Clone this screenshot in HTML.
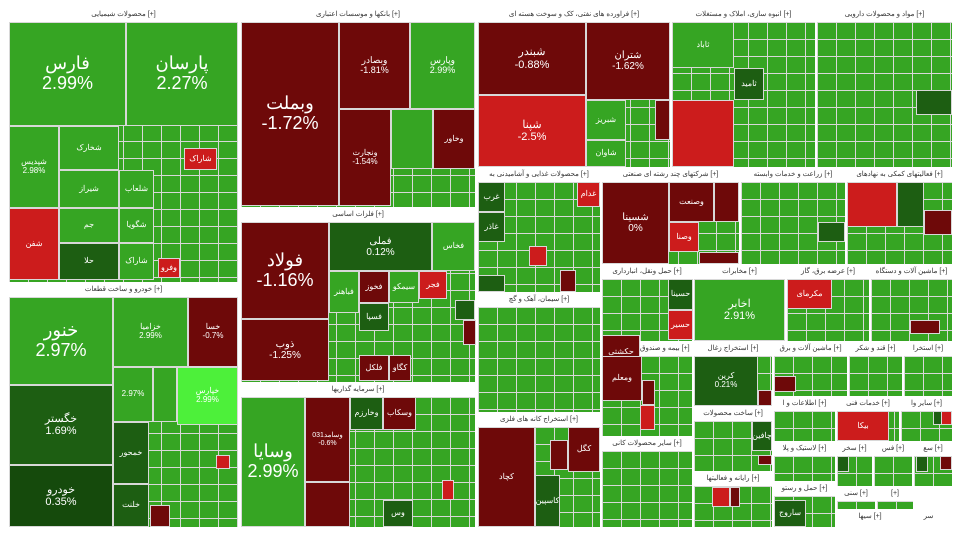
<!DOCTYPE html>
<html><head><meta charset="utf-8"><style>
body{margin:0;width:960px;height:540px;background:#fff;position:relative;overflow:hidden;font-family:"Liberation Sans","Noto Sans CJK SC",sans-serif}
.s{position:absolute;background:#fff;box-sizing:border-box}
.s .h{position:absolute;left:0;right:0;top:0;height:14px;font-size:7px;color:#333;text-align:center;line-height:14px;white-space:nowrap;overflow:hidden}
.s .c{position:absolute;left:1px;right:1px;top:14px;bottom:1px;background-color:#36a523;background-image:linear-gradient(#d8d8d8 1px,transparent 1px),linear-gradient(90deg,#d8d8d8 1px,transparent 1px);background-size:19px 17px}
.t{position:absolute;box-sizing:border-box;border:1px solid #d8d8d8;color:#fff;display:flex;flex-direction:column;align-items:center;justify-content:center;font-size:8px;text-align:center;line-height:1.1;overflow:hidden}
.g{background:#36a523}.G{background:#1d5e12}.r{background:#cc1c1c}.R{background:#6e0909}.L{background:#4df03a}
.b{font-size:18px}.m{font-size:11px}
</style></head><body>
<div class="s" style="left:8px;top:8px;width:231px;height:275px"><div class="h">محصولات شیمیایی [+]</div><div class="c"></div></div>
<div class="s" style="left:8px;top:283px;width:231px;height:245px"><div class="h">خودرو و ساخت قطعات [+]</div><div class="c"></div></div>
<div class="s" style="left:240px;top:8px;width:236px;height:200px"><div class="h">بانکها و موسسات اعتباری [+]</div><div class="c"></div></div>
<div class="s" style="left:240px;top:208px;width:236px;height:175px"><div class="h">فلزات اساسی [+]</div><div class="c"></div></div>
<div class="s" style="left:240px;top:383px;width:236px;height:145px"><div class="h">سرمایه گذاریها [+]</div><div class="c"></div></div>
<div class="s" style="left:477px;top:8px;width:194px;height:160px"><div class="h">فراورده های نفتی، کک و سوخت هسته ای [+]</div><div class="c"></div></div>
<div class="s" style="left:671px;top:8px;width:145px;height:160px"><div class="h">انبوه سازی، املاک و مستغلات [+]</div><div class="c"></div></div>
<div class="s" style="left:816px;top:8px;width:137px;height:160px"><div class="h">مواد و محصولات دارویی [+]</div><div class="c"></div></div>
<div class="s" style="left:477px;top:168px;width:124px;height:125px"><div class="h">محصولات غذایی و آشامیدنی به [+]</div><div class="c"></div></div>
<div class="s" style="left:601px;top:168px;width:139px;height:97px"><div class="h">شرکتهای چند رشته ای صنعتی [+]</div><div class="c"></div></div>
<div class="s" style="left:740px;top:168px;width:106px;height:97px"><div class="h">زراعت و خدمات وابسته [+]</div><div class="c"></div></div>
<div class="s" style="left:846px;top:168px;width:107px;height:97px"><div class="h">فعالیتهای کمکی به نهادهای [+]</div><div class="c"></div></div>
<div class="s" style="left:601px;top:265px;width:92px;height:77px"><div class="h">حمل ونقل، انبارداری [+]</div><div class="c"></div></div>
<div class="s" style="left:693px;top:265px;width:93px;height:77px"><div class="h">مخابرات [+]</div><div class="c"></div></div>
<div class="s" style="left:786px;top:265px;width:84px;height:77px"><div class="h">عرضه برق، گاز [+]</div><div class="c"></div></div>
<div class="s" style="left:870px;top:265px;width:83px;height:77px"><div class="h">ماشین آلات و دستگاه [+]</div><div class="c"></div></div>
<div class="s" style="left:477px;top:293px;width:124px;height:120px"><div class="h">سیمان، آهک و گچ [+]</div><div class="c"></div></div>
<div class="s" style="left:477px;top:413px;width:124px;height:115px"><div class="h">استخراج کانه های فلزی [+]</div><div class="c"></div></div>
<div class="s" style="left:601px;top:342px;width:92px;height:95px"><div class="h">بیمه و صندوق بازنشستگی [+]</div><div class="c"></div></div>
<div class="s" style="left:601px;top:437px;width:92px;height:91px"><div class="h">سایر محصولات کانی [+]</div><div class="c"></div></div>
<div class="s" style="left:693px;top:342px;width:80px;height:65px"><div class="h">استخراج زغال [+]</div><div class="c"></div></div>
<div class="s" style="left:693px;top:407px;width:80px;height:65px"><div class="h">ساخت محصولات [+]</div><div class="c"></div></div>
<div class="s" style="left:693px;top:472px;width:80px;height:56px"><div class="h">رایانه و فعالیتها [+]</div><div class="c"></div></div>
<div class="s" style="left:773px;top:342px;width:75px;height:55px"><div class="h">ماشین آلات و برق [+]</div><div class="c"></div></div>
<div class="s" style="left:848px;top:342px;width:55px;height:55px"><div class="h">قند و شکر [+]</div><div class="c"></div></div>
<div class="s" style="left:903px;top:342px;width:50px;height:55px"><div class="h">استخرا [+]</div><div class="c"></div></div>
<div class="s" style="left:773px;top:397px;width:63px;height:45px"><div class="h">اطلاعات و ا [+]</div><div class="c"></div></div>
<div class="s" style="left:836px;top:397px;width:64px;height:45px"><div class="h">خدمات فنی [+]</div><div class="c"></div></div>
<div class="s" style="left:900px;top:397px;width:53px;height:45px"><div class="h">سایر وا [+]</div><div class="c"></div></div>
<div class="s" style="left:773px;top:442px;width:63px;height:40px"><div class="h">لاستیک و پلا [+]</div><div class="c"></div></div>
<div class="s" style="left:773px;top:482px;width:63px;height:46px"><div class="h">حمل و رستو [+]</div><div class="c"></div></div>
<div class="s" style="left:836px;top:442px;width:37px;height:45px"><div class="h">سخر [+]</div><div class="c"></div></div>
<div class="s" style="left:873px;top:442px;width:40px;height:45px"><div class="h">فس [+]</div><div class="c"></div></div>
<div class="s" style="left:913px;top:442px;width:40px;height:45px"><div class="h">سع [+]</div><div class="c"></div></div>
<div class="s" style="left:836px;top:487px;width:40px;height:23px"><div class="h">سنی [+]</div><div class="c"></div></div>
<div class="s" style="left:876px;top:487px;width:38px;height:23px"><div class="h">[+]</div><div class="c"></div></div>
<div class="s" style="left:836px;top:510px;width:68px;height:18px"><div class="h">سیها [+]</div></div>
<div class="s" style="left:904px;top:510px;width:49px;height:18px"><div class="h">سر</div></div>

<!-- chemical -->
<div class="t g b" style="left:9px;top:22px;width:117px;height:104px">فارس<br>2.99%</div>
<div class="t g b" style="left:126px;top:22px;width:112px;height:104px">پارسان<br>2.27%</div>
<div class="t g" style="left:9px;top:126px;width:50px;height:82px">شپدیس<br>2.98%</div>
<div class="t g" style="left:59px;top:126px;width:60px;height:44px">شخارک</div>
<div class="t g" style="left:59px;top:170px;width:60px;height:38px">شیراز</div>
<div class="t r" style="left:9px;top:208px;width:50px;height:72px">شفن</div>
<div class="t g" style="left:59px;top:208px;width:60px;height:35px">جم</div>
<div class="t G" style="left:59px;top:243px;width:60px;height:37px">حلا</div>
<div class="t g" style="left:119px;top:170px;width:35px;height:38px">شلعاب</div>
<div class="t g" style="left:119px;top:208px;width:35px;height:35px">شگویا</div>
<div class="t g" style="left:119px;top:243px;width:35px;height:37px">شاراک</div>
<div class="t r" style="left:184px;top:148px;width:33px;height:22px">شاراک</div>
<div class="t r" style="left:158px;top:258px;width:22px;height:20px">وفرو</div>
<!-- auto -->
<div class="t g b" style="left:9px;top:297px;width:104px;height:88px">خنور<br>2.97%</div>
<div class="t G m" style="left:9px;top:385px;width:104px;height:80px">خگستر<br>1.69%</div>
<div class="t G m" style="left:9px;top:465px;width:104px;height:62px;background:#154a0c">خودرو<br>0.35%</div>
<div class="t g" style="left:113px;top:297px;width:75px;height:70px">خزامیا<br>2.99%</div>
<div class="t R" style="left:188px;top:297px;width:50px;height:70px">خسا<br>-0.7%</div>
<div class="t g" style="left:113px;top:367px;width:40px;height:55px">2.97%</div>
<div class="t g" style="left:153px;top:367px;width:24px;height:55px"></div>
<div class="t L" style="left:177px;top:367px;width:61px;height:58px">خپارس<br>2.99%</div>
<div class="t G" style="left:113px;top:422px;width:36px;height:62px">خمحور</div>
<div class="t G" style="left:113px;top:484px;width:36px;height:43px">خلنت</div>
<div class="t R" style="left:150px;top:505px;width:20px;height:22px"></div>
<div class="t r" style="left:216px;top:455px;width:14px;height:14px"></div>
<!-- banks -->
<div class="t R b" style="left:241px;top:22px;width:98px;height:184px">وبملت<br>-1.72%</div>
<div class="t R" style="left:339px;top:22px;width:71px;height:87px;font-size:9px">وبصادر<br>-1.81%</div>
<div class="t g" style="left:410px;top:22px;width:65px;height:87px;font-size:9px">وپارس<br>2.99%</div>
<div class="t R" style="left:339px;top:109px;width:52px;height:97px">ونجارت<br>-1.54%</div>
<div class="t R" style="left:433px;top:109px;width:42px;height:60px">وخاور</div>
<div class="t g" style="left:391px;top:109px;width:42px;height:60px"></div>
<!-- metals -->
<div class="t R b" style="left:241px;top:222px;width:88px;height:97px">فولاد<br>-1.16%</div>
<div class="t R" style="left:241px;top:319px;width:88px;height:62px;font-size:10px">ذوب<br>-1.25%</div>
<div class="t G" style="left:329px;top:222px;width:103px;height:49px;font-size:10px">فملی<br>0.12%</div>
<div class="t g" style="left:432px;top:222px;width:43px;height:49px">فخاس</div>
<div class="t g" style="left:329px;top:271px;width:30px;height:42px">فباهنر</div>
<div class="t R" style="left:359px;top:271px;width:30px;height:32px">فخوز</div>
<div class="t g" style="left:389px;top:271px;width:30px;height:32px">سیمکو</div>
<div class="t r" style="left:419px;top:271px;width:28px;height:28px">فجر</div>
<div class="t G" style="left:359px;top:303px;width:30px;height:28px">فسپا</div>
<div class="t R" style="left:359px;top:355px;width:30px;height:26px">فلکل</div>
<div class="t R" style="left:389px;top:355px;width:22px;height:26px">کگاو</div>
<div class="t G" style="left:455px;top:300px;width:20px;height:20px"></div>
<div class="t R" style="left:463px;top:320px;width:13px;height:25px"></div>
<!-- invest -->
<div class="t g b" style="left:241px;top:397px;width:64px;height:130px">وسایا<br>2.99%</div>
<div class="t R" style="left:305px;top:397px;width:45px;height:85px;font-size:7px">وسامد031<br>-0.6%</div>
<div class="t R" style="left:305px;top:482px;width:45px;height:45px"></div>
<div class="t G" style="left:350px;top:397px;width:33px;height:33px">وخارزم</div>
<div class="t R" style="left:383px;top:397px;width:33px;height:33px">وسکاب</div>
<div class="t G" style="left:383px;top:500px;width:30px;height:27px">وس</div>
<div class="t r" style="left:442px;top:480px;width:12px;height:20px"></div>
<!-- refinery -->
<div class="t R m" style="left:478px;top:22px;width:108px;height:73px">شبندر<br>-0.88%</div>
<div class="t r m" style="left:478px;top:95px;width:108px;height:72px">شپنا<br>-2.5%</div>
<div class="t R" style="left:586px;top:22px;width:84px;height:78px;font-size:10px">شتران<br>-1.62%</div>
<div class="t g" style="left:586px;top:100px;width:40px;height:40px">شبریز</div>
<div class="t g" style="left:586px;top:140px;width:40px;height:27px">شاوان</div>
<div class="t R" style="left:655px;top:100px;width:15px;height:40px"></div>
<!-- cement/property -->
<div class="t r" style="left:672px;top:100px;width:62px;height:67px"></div>
<div class="t G" style="left:734px;top:68px;width:30px;height:32px">ثامید</div>
<div class="t g" style="left:672px;top:22px;width:62px;height:46px">ثاباد</div>
<!-- pharma -->
<div class="t G" style="left:916px;top:90px;width:36px;height:25px"></div>
<!-- food -->
<div class="t G" style="left:478px;top:182px;width:27px;height:30px">غرب</div>
<div class="t G" style="left:478px;top:212px;width:27px;height:30px">غاذر</div>
<div class="t r" style="left:577px;top:182px;width:23px;height:25px">غدام</div>
<div class="t r" style="left:529px;top:246px;width:18px;height:20px"></div>
<div class="t R" style="left:560px;top:270px;width:16px;height:22px"></div>
<div class="t G" style="left:478px;top:275px;width:27px;height:17px"></div>
<!-- multi -->
<div class="t R" style="left:602px;top:182px;width:67px;height:82px;font-size:10px">شسینا<br>0%</div>
<div class="t R" style="left:669px;top:182px;width:45px;height:40px">وصنعت</div>
<div class="t r" style="left:669px;top:222px;width:30px;height:30px">وصنا</div>
<div class="t R" style="left:714px;top:182px;width:25px;height:40px"></div>
<div class="t R" style="left:699px;top:252px;width:40px;height:12px"></div>
<!-- agriculture / computers -->
<div class="t G" style="left:818px;top:222px;width:27px;height:20px"></div>
<div class="t r" style="left:847px;top:182px;width:50px;height:45px"></div>
<div class="t R" style="left:924px;top:210px;width:28px;height:25px"></div>
<div class="t G" style="left:897px;top:182px;width:27px;height:45px"></div>
<!-- transport row -->
<div class="t r" style="left:668px;top:310px;width:25px;height:30px">حسیر</div>
<div class="t G" style="left:668px;top:279px;width:25px;height:31px">حسینا</div>
<div class="t g m" style="left:694px;top:279px;width:91px;height:62px">اخابر<br>2.91%</div>
<div class="t r" style="left:787px;top:279px;width:45px;height:30px">مکرمای</div>
<div class="t R" style="left:910px;top:320px;width:30px;height:14px"></div>
<!-- cement -->
<div class="t G" style="left:602px;top:342px;width:0;height:0"></div>
<div class="t R" style="left:602px;top:335px;width:38px;height:35px">حکشتی</div>
<!-- mining -->
<div class="t R" style="left:478px;top:427px;width:57px;height:100px">کچاد</div>
<div class="t R" style="left:568px;top:427px;width:32px;height:45px">کگل</div>
<div class="t G" style="left:535px;top:475px;width:25px;height:52px">کاسپین</div>
<div class="t R" style="left:550px;top:440px;width:18px;height:30px"></div>
<!-- insurance -->
<div class="t R" style="left:602px;top:356px;width:40px;height:45px">ومعلم</div>
<div class="t r" style="left:640px;top:405px;width:15px;height:25px"></div>
<div class="t R" style="left:642px;top:380px;width:13px;height:25px"></div>
<!-- coal etc -->
<div class="t G" style="left:694px;top:356px;width:64px;height:50px">کرین<br>0.21%</div>
<div class="t R" style="left:758px;top:390px;width:14px;height:16px"></div>
<div class="t G" style="left:752px;top:421px;width:20px;height:30px">چافین</div>
<div class="t R" style="left:758px;top:455px;width:14px;height:10px"></div>
<div class="t r" style="left:712px;top:487px;width:18px;height:20px"></div>
<div class="t R" style="left:730px;top:487px;width:10px;height:20px"></div>
<div class="t G" style="left:774px;top:500px;width:32px;height:27px">ساروج</div>
<div class="t R" style="left:774px;top:376px;width:22px;height:16px"></div>
<div class="t r" style="left:837px;top:411px;width:52px;height:30px">بیکا</div>
<div class="t G" style="left:933px;top:411px;width:10px;height:14px"></div>
<div class="t r" style="left:941px;top:411px;width:11px;height:14px"></div>
<div class="t G" style="left:837px;top:456px;width:12px;height:16px"></div>
<div class="t R" style="left:940px;top:456px;width:12px;height:14px"></div>
<div class="t G" style="left:916px;top:456px;width:12px;height:16px"></div>
</body></html>
